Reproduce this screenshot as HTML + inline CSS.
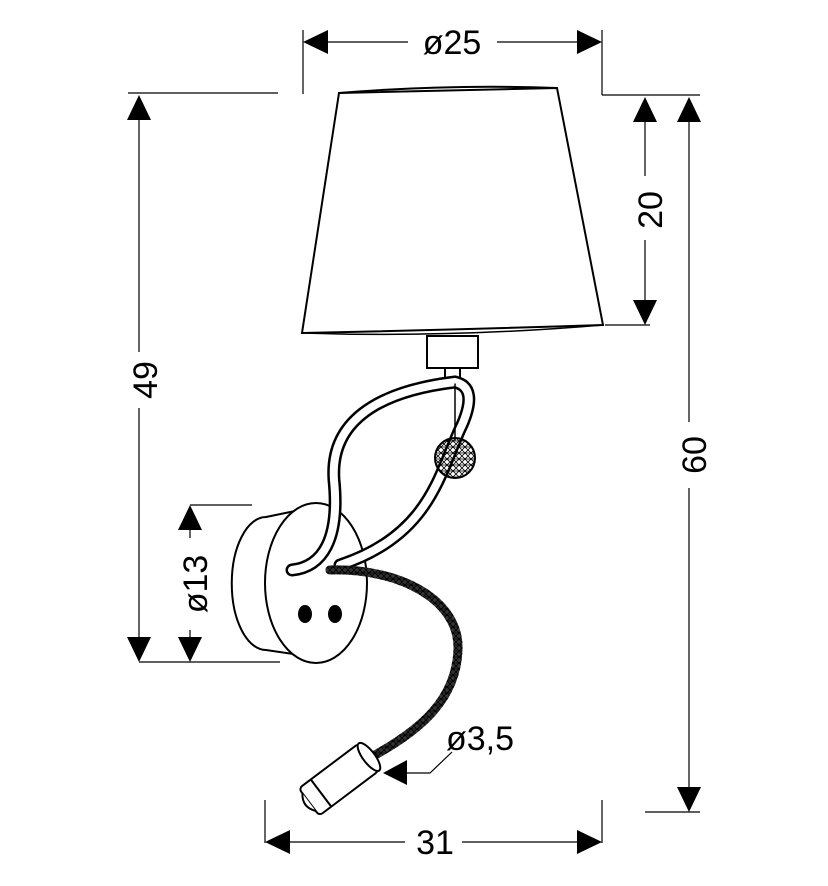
<!DOCTYPE html>
<html><head><style>html,body{margin:0;padding:0;background:#fff}svg{display:block}text{font-family:"Liberation Sans",sans-serif;fill:#000}</style></head>
<body>
<svg width="828" height="886" viewBox="0 0 828 886" xmlns="http://www.w3.org/2000/svg">
<defs>
<pattern id="hatch" width="6" height="6" patternUnits="userSpaceOnUse"><path d="M0 0L6 6M6 0L0 6M0 3H6" stroke="#000" stroke-width="0.8"/></pattern>
</defs>
<g stroke="#000" stroke-width="1.2" fill="none">
<line x1="303" y1="30" x2="303" y2="94"/>
<line x1="602" y1="30" x2="602" y2="95"/>
<line x1="328" y1="42" x2="408" y2="42"/>
<line x1="497" y1="42" x2="578" y2="42"/>
<line x1="128" y1="93" x2="278" y2="93"/>
<line x1="139" y1="118" x2="139" y2="352"/>
<line x1="139" y1="408" x2="139" y2="638"/>
<line x1="139" y1="662" x2="280" y2="662"/>
<line x1="602" y1="95" x2="700" y2="95"/>
<line x1="645" y1="120" x2="645" y2="176"/>
<line x1="645" y1="240" x2="645" y2="302"/>
<line x1="605" y1="325" x2="650" y2="325"/>
<line x1="689" y1="120" x2="689" y2="422"/>
<line x1="689" y1="488" x2="689" y2="788"/>
<line x1="645" y1="812" x2="700" y2="812"/>
<line x1="190" y1="505" x2="252" y2="505"/>
<line x1="190" y1="530" x2="190" y2="538"/>
<line x1="190" y1="630" x2="190" y2="638"/>
<line x1="265" y1="800" x2="265" y2="843"/>
<line x1="602" y1="800" x2="602" y2="843"/>
<line x1="290" y1="842" x2="405" y2="842"/>
<line x1="462" y1="842" x2="578" y2="842"/>
<polyline points="405,773 430,773 452,752"/>
</g>
<g fill="#000">
<polygon points="303,42 328,30 328,54"/><polygon points="602,42 577,30 577,54"/>
<polygon points="139,95 127,120 151,120"/><polygon points="139,662 127,637 151,637"/>
<polygon points="645,97 633,122 657,122"/><polygon points="645,325 633,300 657,300"/>
<polygon points="689,97 677,122 701,122"/><polygon points="689,812 677,787 701,787"/>
<polygon points="190,505 178,530 202,530"/><polygon points="190,662 178,637 202,637"/>
<polygon points="265,842 290,830 290,854"/><polygon points="602,842 577,830 577,854"/>
<polygon points="383,773 407,760 407,785"/>
</g>
<g font-size="34">
<text x="452" y="54" text-anchor="middle">ø25</text>
<text x="435" y="854" text-anchor="middle">31</text>
<text x="446" y="750">ø3,5</text>
<text transform="translate(157,380) rotate(-90)" text-anchor="middle">49</text>
<text transform="translate(662,210) rotate(-90)" text-anchor="middle">20</text>
<text transform="translate(706,455) rotate(-90)" text-anchor="middle">60</text>
<text transform="translate(207,584) rotate(-90)" text-anchor="middle">ø13</text>
</g>
<g stroke="#000" stroke-width="2" fill="#fff">
<path d="M339,93 L557,88 L603,325 Q450,330 302,333 Z"/>
<path d="M339,93 Q450,84 557,88" fill="none"/>
<path d="M302,333 Q450,338 603,325" fill="none" stroke-width="1.5"/>
<rect x="427" y="336" width="51" height="32"/>
<rect x="445" y="368" width="15" height="12"/>
</g>
<g stroke="#000" stroke-width="2" fill="#fff">
<path d="M266,517 L300,510 L300,655 L266,650 A34,66 0 0 1 266,517 Z"/>
<ellipse cx="316" cy="583" rx="51" ry="80"/>
<ellipse cx="305" cy="614" rx="6" ry="8" fill="#000"/>
<ellipse cx="335" cy="614" rx="6" ry="8" fill="#000"/>
</g>
<g fill="none" stroke-linecap="round">
<path d="M292,570 C322,567 340,540 334,480 C330,425 372,392 455,382 C472,386 472,402 462,425 C440,470 432,535 340,565" stroke="#000" stroke-width="13"/>
<path d="M292,570 C322,567 340,540 334,480 C330,425 372,392 455,382 C472,386 472,402 462,425 C440,470 432,535 340,565" stroke="#fff" stroke-width="8"/>
<path d="M455,384 L455,440" stroke="#000" stroke-width="1.5"/>
<path d="M330,570 C400,568 460,600 458,650 C456,700 420,730 375,755" stroke="#333" stroke-width="9"/>
<path d="M330,570 C400,568 460,600 458,650 C456,700 420,730 375,755" stroke="url(#hatch)" stroke-width="9"/>
</g>
<circle cx="455" cy="458" r="20" fill="url(#hatch)" stroke="#000" stroke-width="2"/>
<g transform="translate(345,775) rotate(-37)" stroke="#000" stroke-width="2" fill="#fff">
<rect x="-45" y="-17" width="75" height="34" rx="4"/>
<ellipse cx="30" cy="0" rx="6" ry="17"/>
<line x1="-30" y1="-17" x2="-30" y2="17"/>
<path d="M-45,-11 Q-54,0 -45,11"/>
</g>
</svg>
</body></html>
